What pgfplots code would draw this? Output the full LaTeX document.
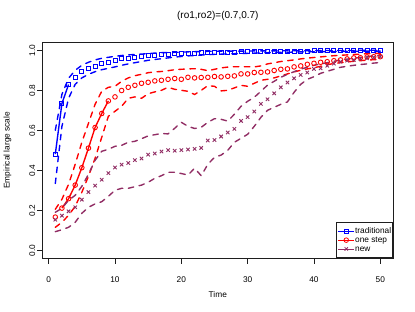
\documentclass[border=0pt]{standalone}
\usepackage{fontspec}
\setmainfont{Liberation Sans}
\usepackage{pgfplots}
\pgfplotsset{compat=1.18}
\usepackage{pgfplotstable}
\definecolor{newc}{RGB}{145,45,100}
\definecolor{frm}{RGB}{30,30,30}

\pgfplotstableread{
t m lo hi
1 0.481 0.334 0.600
2 0.734 0.620 0.780
3 0.829 0.760 0.860
4 0.865 0.830 0.900
5 0.895 0.862 0.925
6 0.907 0.880 0.940
7 0.920 0.893 0.952
8 0.933 0.903 0.960
9 0.940 0.910 0.965
10 0.947 0.917 0.970
11 0.957 0.925 0.974
12 0.960 0.932 0.977
13 0.965 0.938 0.979
14 0.968 0.944 0.981
15 0.973 0.950 0.984
16 0.975 0.954 0.986
17 0.978 0.958 0.988
18 0.980 0.962 0.989
19 0.982 0.966 0.990
20 0.983 0.969 0.991
21 0.985 0.972 0.992
22 0.986 0.974 0.993
23 0.987 0.976 0.994
24 0.988 0.978 0.995
25 0.989 0.980 0.995
26 0.990 0.981 0.996
27 0.990 0.982 0.996
28 0.991 0.983 0.996
29 0.992 0.984 0.996
30 0.992 0.985 0.996
31 0.993 0.986 0.997
32 0.993 0.987 0.997
33 0.994 0.988 0.997
34 0.994 0.989 0.997
35 0.995 0.990 0.998
36 0.995 0.990 0.998
37 0.996 0.991 0.998
38 0.996 0.992 0.998
39 0.996 0.992 0.998
40 0.997 0.993 0.998
41 0.997 0.993 0.999
42 0.997 0.994 0.999
43 0.997 0.994 0.999
44 0.997 0.994 0.999
45 0.998 0.995 0.999
46 0.998 0.995 0.999
47 0.998 0.995 1.000
48 0.998 0.996 1.000
49 0.998 0.996 1.000
50 0.998 0.996 1.000
}\trad

\pgfplotstableread{
t m lo hi
1 0.166 0.115 0.205
2 0.211 0.140 0.255
3 0.258 0.175 0.330
4 0.326 0.220 0.430
5 0.413 0.290 0.540
6 0.511 0.370 0.635
7 0.614 0.460 0.730
8 0.684 0.565 0.795
9 0.747 0.670 0.815
10 0.767 0.695 0.820
11 0.799 0.720 0.845
12 0.815 0.760 0.862
13 0.825 0.767 0.873
14 0.835 0.760 0.880
15 0.840 0.783 0.888
16 0.847 0.792 0.892
17 0.850 0.800 0.894
18 0.855 0.815 0.898
19 0.859 0.805 0.903
20 0.855 0.800 0.905
21 0.865 0.795 0.907
22 0.862 0.779 0.908
23 0.864 0.800 0.905
24 0.865 0.823 0.898
25 0.869 0.820 0.905
26 0.867 0.797 0.912
27 0.870 0.800 0.916
28 0.872 0.812 0.918
29 0.882 0.825 0.918
30 0.882 0.820 0.918
31 0.889 0.835 0.917
32 0.890 0.850 0.922
33 0.892 0.855 0.932
34 0.899 0.862 0.938
35 0.905 0.872 0.944
36 0.907 0.882 0.948
37 0.917 0.892 0.952
38 0.922 0.900 0.957
39 0.930 0.907 0.961
40 0.935 0.913 0.964
41 0.940 0.920 0.967
42 0.943 0.928 0.970
43 0.948 0.934 0.973
44 0.952 0.938 0.975
45 0.957 0.942 0.977
46 0.962 0.945 0.979
47 0.963 0.948 0.981
48 0.967 0.951 0.983
49 0.968 0.953 0.984
50 0.968 0.955 0.985
}\onestep

\pgfplotstableread{
t m lo hi
1 0.153 0.093 0.190
2 0.173 0.103 0.210
3 0.195 0.115 0.250
4 0.215 0.140 0.275
5 0.253 0.185 0.320
6 0.291 0.215 0.380
7 0.323 0.232 0.450
8 0.353 0.243 0.495
9 0.386 0.270 0.505
10 0.414 0.300 0.520
11 0.428 0.310 0.525
12 0.436 0.310 0.540
13 0.451 0.318 0.545
14 0.459 0.326 0.558
15 0.478 0.340 0.572
16 0.484 0.360 0.578
17 0.494 0.373 0.584
18 0.501 0.390 0.582
19 0.498 0.390 0.610
20 0.501 0.384 0.640
21 0.504 0.376 0.620
22 0.507 0.410 0.609
23 0.512 0.373 0.615
24 0.549 0.430 0.640
25 0.551 0.465 0.658
26 0.569 0.476 0.655
27 0.589 0.500 0.646
28 0.607 0.540 0.680
29 0.647 0.560 0.720
30 0.666 0.580 0.745
31 0.694 0.620 0.765
32 0.732 0.665 0.795
33 0.755 0.700 0.826
34 0.785 0.715 0.845
35 0.815 0.730 0.865
36 0.839 0.742 0.880
37 0.860 0.790 0.893
38 0.877 0.830 0.906
39 0.889 0.855 0.915
40 0.907 0.868 0.925
41 0.910 0.885 0.932
42 0.923 0.895 0.938
43 0.933 0.905 0.945
44 0.943 0.915 0.951
45 0.948 0.920 0.956
46 0.952 0.925 0.960
47 0.957 0.929 0.965
48 0.960 0.932 0.969
49 0.965 0.936 0.972
50 0.968 0.939 0.975
}\newm

\begin{document}
\begin{tikzpicture}
\begin{axis}[
  at={(0,0)}, anchor=south west,
  scale only axis, width=351bp, height=216bp,
  xmin=-0.96, xmax=51.96, ymin=-0.04, ymax=1.04,
  clip=false,
  xtick={0,10,20,30,40,50}, ytick={0,0.2,0.4,0.6,0.8,1.0},
  xtick pos=bottom, ytick pos=left, tick align=outside, major tick length=5bp,
  tick style={draw=none},
  axis line style={draw=none},
  /pgf/number format/assume math mode=true,
  yticklabel={\pgfmathprintnumber[fixed, fixed zerofill, precision=1]{\tick}},
  every tick label/.append style={font=\fontsize{8.3bp}{10bp}\selectfont, inner sep=0pt},
  yticklabel style={xshift=-5bp, rotate=90, anchor=center},
  xticklabel style={anchor=center, yshift=-16bp},
  title={(ro1,ro2)=(0.7,0.7)},
  title style={at={(axis description cs:0.5,1.0926)}, anchor=center, font=\fontsize{10bp}{12bp}\selectfont, inner sep=0pt},
  xlabel={Time},
  xlabel style={at={(axis description cs:0.5,-0.1699)}, anchor=center, font=\fontsize{8.3bp}{10bp}\selectfont, inner sep=0pt},
  ylabel={Empirical large scale},
  ylabel style={at={(axis description cs:-0.0991,0.5)}, anchor=center, font=\fontsize{8.3bp}{10bp}\selectfont, inner sep=0pt},
  fr/.style={frm, line width=0.9bp, line cap=rect, forget plot},
  legend image code/.code={\draw[mark repeat=2,mark phase=2,#1] plot coordinates {(0bp,0bp) (8bp,0bp) (16bp,0bp)};},
  legend style={at={(axis description cs:1,0)}, anchor=south east, draw=frm, line width=0.9bp, fill=white,
    inner xsep=1.2bp, inner ysep=4.5bp, row sep=0pt,
    font=\fontsize{8.3bp}{9.3bp}\selectfont,
    nodes={inner sep=0.5bp, text height=6bp, text depth=1.8bp, anchor=west},
    /tikz/every even column/.append style={column sep=5bp}},
  legend cell align=left,
]
% frame and ticks
\addplot[fr] coordinates {(-0.96,-0.04) (51.96,-0.04) (51.96,1.04) (-0.96,1.04) (-0.96,-0.04)};
\addplot[fr] coordinates {(0,-0.04) (0,-0.065)};
\addplot[fr] coordinates {(10,-0.04) (10,-0.065)};
\addplot[fr] coordinates {(20,-0.04) (20,-0.065)};
\addplot[fr] coordinates {(30,-0.04) (30,-0.065)};
\addplot[fr] coordinates {(40,-0.04) (40,-0.065)};
\addplot[fr] coordinates {(50,-0.04) (50,-0.065)};
\addplot[fr] coordinates {(-0.96,0) (-1.714,0)};
\addplot[fr] coordinates {(-0.96,0.2) (-1.714,0.2)};
\addplot[fr] coordinates {(-0.96,0.4) (-1.714,0.4)};
\addplot[fr] coordinates {(-0.96,0.6) (-1.714,0.6)};
\addplot[fr] coordinates {(-0.96,0.8) (-1.714,0.8)};
\addplot[fr] coordinates {(-0.96,1) (-1.714,1)};
% traditional
\addplot[blue, line width=1.38bp, forget plot] coordinates {(1,0.481) (2,0.734) (3,0.829)};
\addplot[only marks, blue, mark=square, mark size=2.0bp, mark options={line width=0.9bp, solid, fill=white}, forget plot] table[x=t,y=m]{\trad};
\addplot[blue, dash pattern=on 5.5bp off 5.5bp, line cap=round, line width=1.38bp, forget plot] table[x=t,y=hi]{\trad};
\addplot[blue, dash pattern=on 5.5bp off 5.5bp, line cap=round, line width=1.38bp, forget plot] table[x=t,y=lo]{\trad};
% one step
\addplot[red, line width=1.38bp, forget plot] coordinates {(2,0.211) (3,0.258) (4,0.326) (5,0.413) (6,0.511) (7,0.614) (8,0.684) (9,0.747)};
\addplot[only marks, red, mark=o, mark size=2.3bp, mark options={line width=0.9bp, solid, fill=white}, forget plot] table[x=t,y=m]{\onestep};
\addplot[red, dash pattern=on 5.5bp off 5.5bp, line cap=round, line width=1.38bp, forget plot] table[x=t,y=hi]{\onestep};
\addplot[red, dash pattern=on 5.5bp off 5.5bp, line cap=round, line width=1.38bp, forget plot] table[x=t,y=lo]{\onestep};
% new
\addplot[only marks, newc, mark=x, mark size=2.4bp, mark options={line width=0.9bp, solid}, forget plot] table[x=t,y=m]{\newm};
\addplot[newc, dash pattern=on 5.5bp off 5.5bp, line cap=round, line width=1.38bp, forget plot] table[x=t,y=hi]{\newm};
\addplot[newc, dash pattern=on 5.5bp off 5.5bp, line cap=round, line width=1.38bp, forget plot] table[x=t,y=lo]{\newm};
% legend
\addlegendimage{blue, line width=0.8bp, mark=square, mark size=2.0bp, mark options={solid}}
\addlegendentry{traditional}
\addlegendimage{red, line width=0.8bp, mark=o, mark size=2.3bp, mark options={solid}}
\addlegendentry{one step}
\addlegendimage{newc, line width=0.8bp, mark=x, mark size=2.4bp, mark options={solid}}
\addlegendentry{new}
\end{axis}
\path (-42.3bp,-53.7bp) rectangle (372.7bp,258.3bp);
\end{tikzpicture}
\end{document}
